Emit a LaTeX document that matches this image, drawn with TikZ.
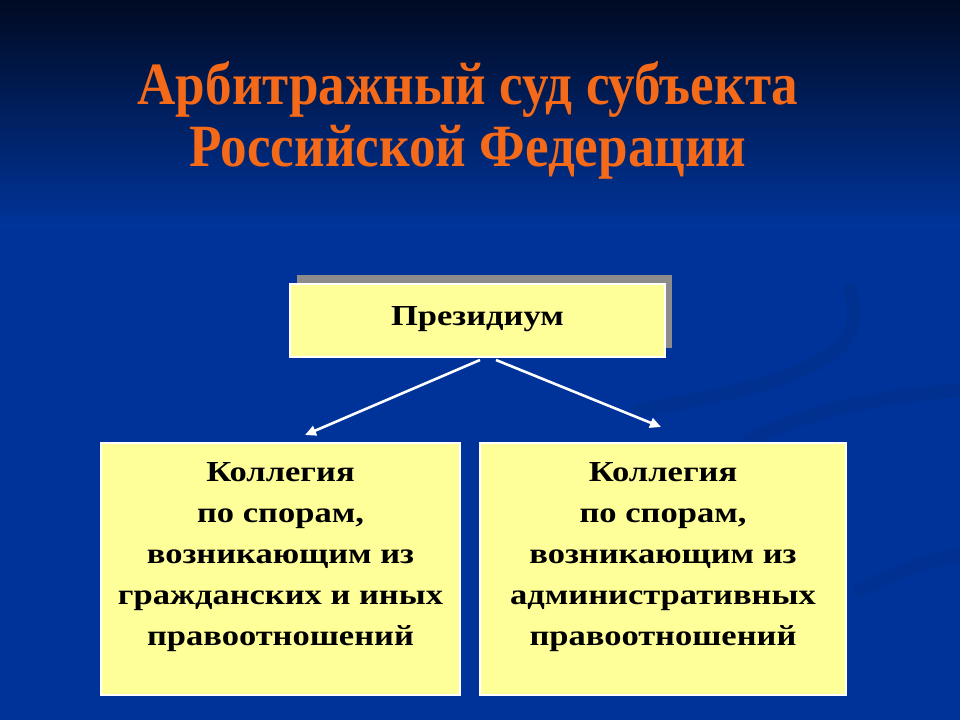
\documentclass[tikz,border=0pt]{standalone}
\usepackage{fontspec}
\setmainfont{Liberation Serif}
\newfontfamily\boxfont[FakeStretch=1.19]{Liberation Serif}
\newfontfamily\titlefont[FakeStretch=0.885]{Liberation Serif}
\usetikzlibrary{arrows.meta}
\definecolor{bgtop}{HTML}{000A22}
\definecolor{bgmid}{HTML}{00359C}
\definecolor{bgbot}{HTML}{003399}
\definecolor{titleor}{HTML}{F56A18}
\definecolor{boxfill}{HTML}{FFFF99}
\definecolor{shadowgray}{HTML}{8C8C8C}
\tikzset{
  ybox/.style={draw=white, line width=2pt, fill=boxfill, inner sep=0pt, anchor=north west},
  boxtext/.style={font=\boxfont\bfseries\fontsize{29}{41}\selectfont, align=center, text=black},
  arr/.style={draw=white, line width=2.6pt, -{Triangle[length=11pt,width=10pt]}},
  swoosh/.style={line width=14pt, draw=black, opacity=0.06, line cap=round}
}
\begin{document}
\begin{tikzpicture}[x=1pt,y=-1pt]
  \useasboundingbox (0,0) rectangle (960,720);
  % background
  \shade[top color=bgtop, bottom color=bgmid] (0,0) rectangle (960,230);
  \fill[bgbot] (0,229) rectangle (960,720);
  % faint swooshes
  \draw[swoosh] (850,290) .. controls (870,350) and (820,380) .. (640,410);
  \draw[swoosh] (750,440) .. controls (820,405) and (900,395) .. (960,390);
  \draw[swoosh,opacity=0.05] (860,590) .. controls (900,570) and (930,560) .. (960,555);
  % title
  \node[font=\titlefont\bfseries\fontsize{60}{62}\selectfont, text=titleor, align=center] (title) at (468,120)
    {Арбитражный суд субъекта\\Российской Федерации};
  % presidium with shadow
  \fill[shadowgray] (297,275) rectangle (672,348);
  \node[ybox, minimum width=375pt, minimum height=73pt] (pres) at (289,283) {};
  \node[boxtext] (prestext) at ([yshift=1pt]pres.center) {Президиум};
  % colleges
  \node[ybox, minimum width=359pt, minimum height=252pt] (left) at (100,442) {};
  \node[ybox, minimum width=366pt, minimum height=252pt] (right) at (479,442) {};
  \node[boxtext, anchor=north] (lefttext) at ([yshift=-17pt]left.north)
    {Коллегия\\по спорам,\\возникающим из\\гражданских и иных\\правоотношений};
  \node[boxtext, anchor=north] (righttext) at ([yshift=-17pt]right.north)
    {Коллегия\\по спорам,\\возникающим из\\административных\\правоотношений};
  % arrows
  \coordinate (a1s) at (480,360);
  \coordinate (a1e) at (305,435);
  \coordinate (a2s) at (496,360);
  \coordinate (a2e) at (661,427);
  \draw[arr] (a1s) -- (a1e);
  \draw[arr] (a2s) -- (a2e);
\end{tikzpicture}
\end{document}
